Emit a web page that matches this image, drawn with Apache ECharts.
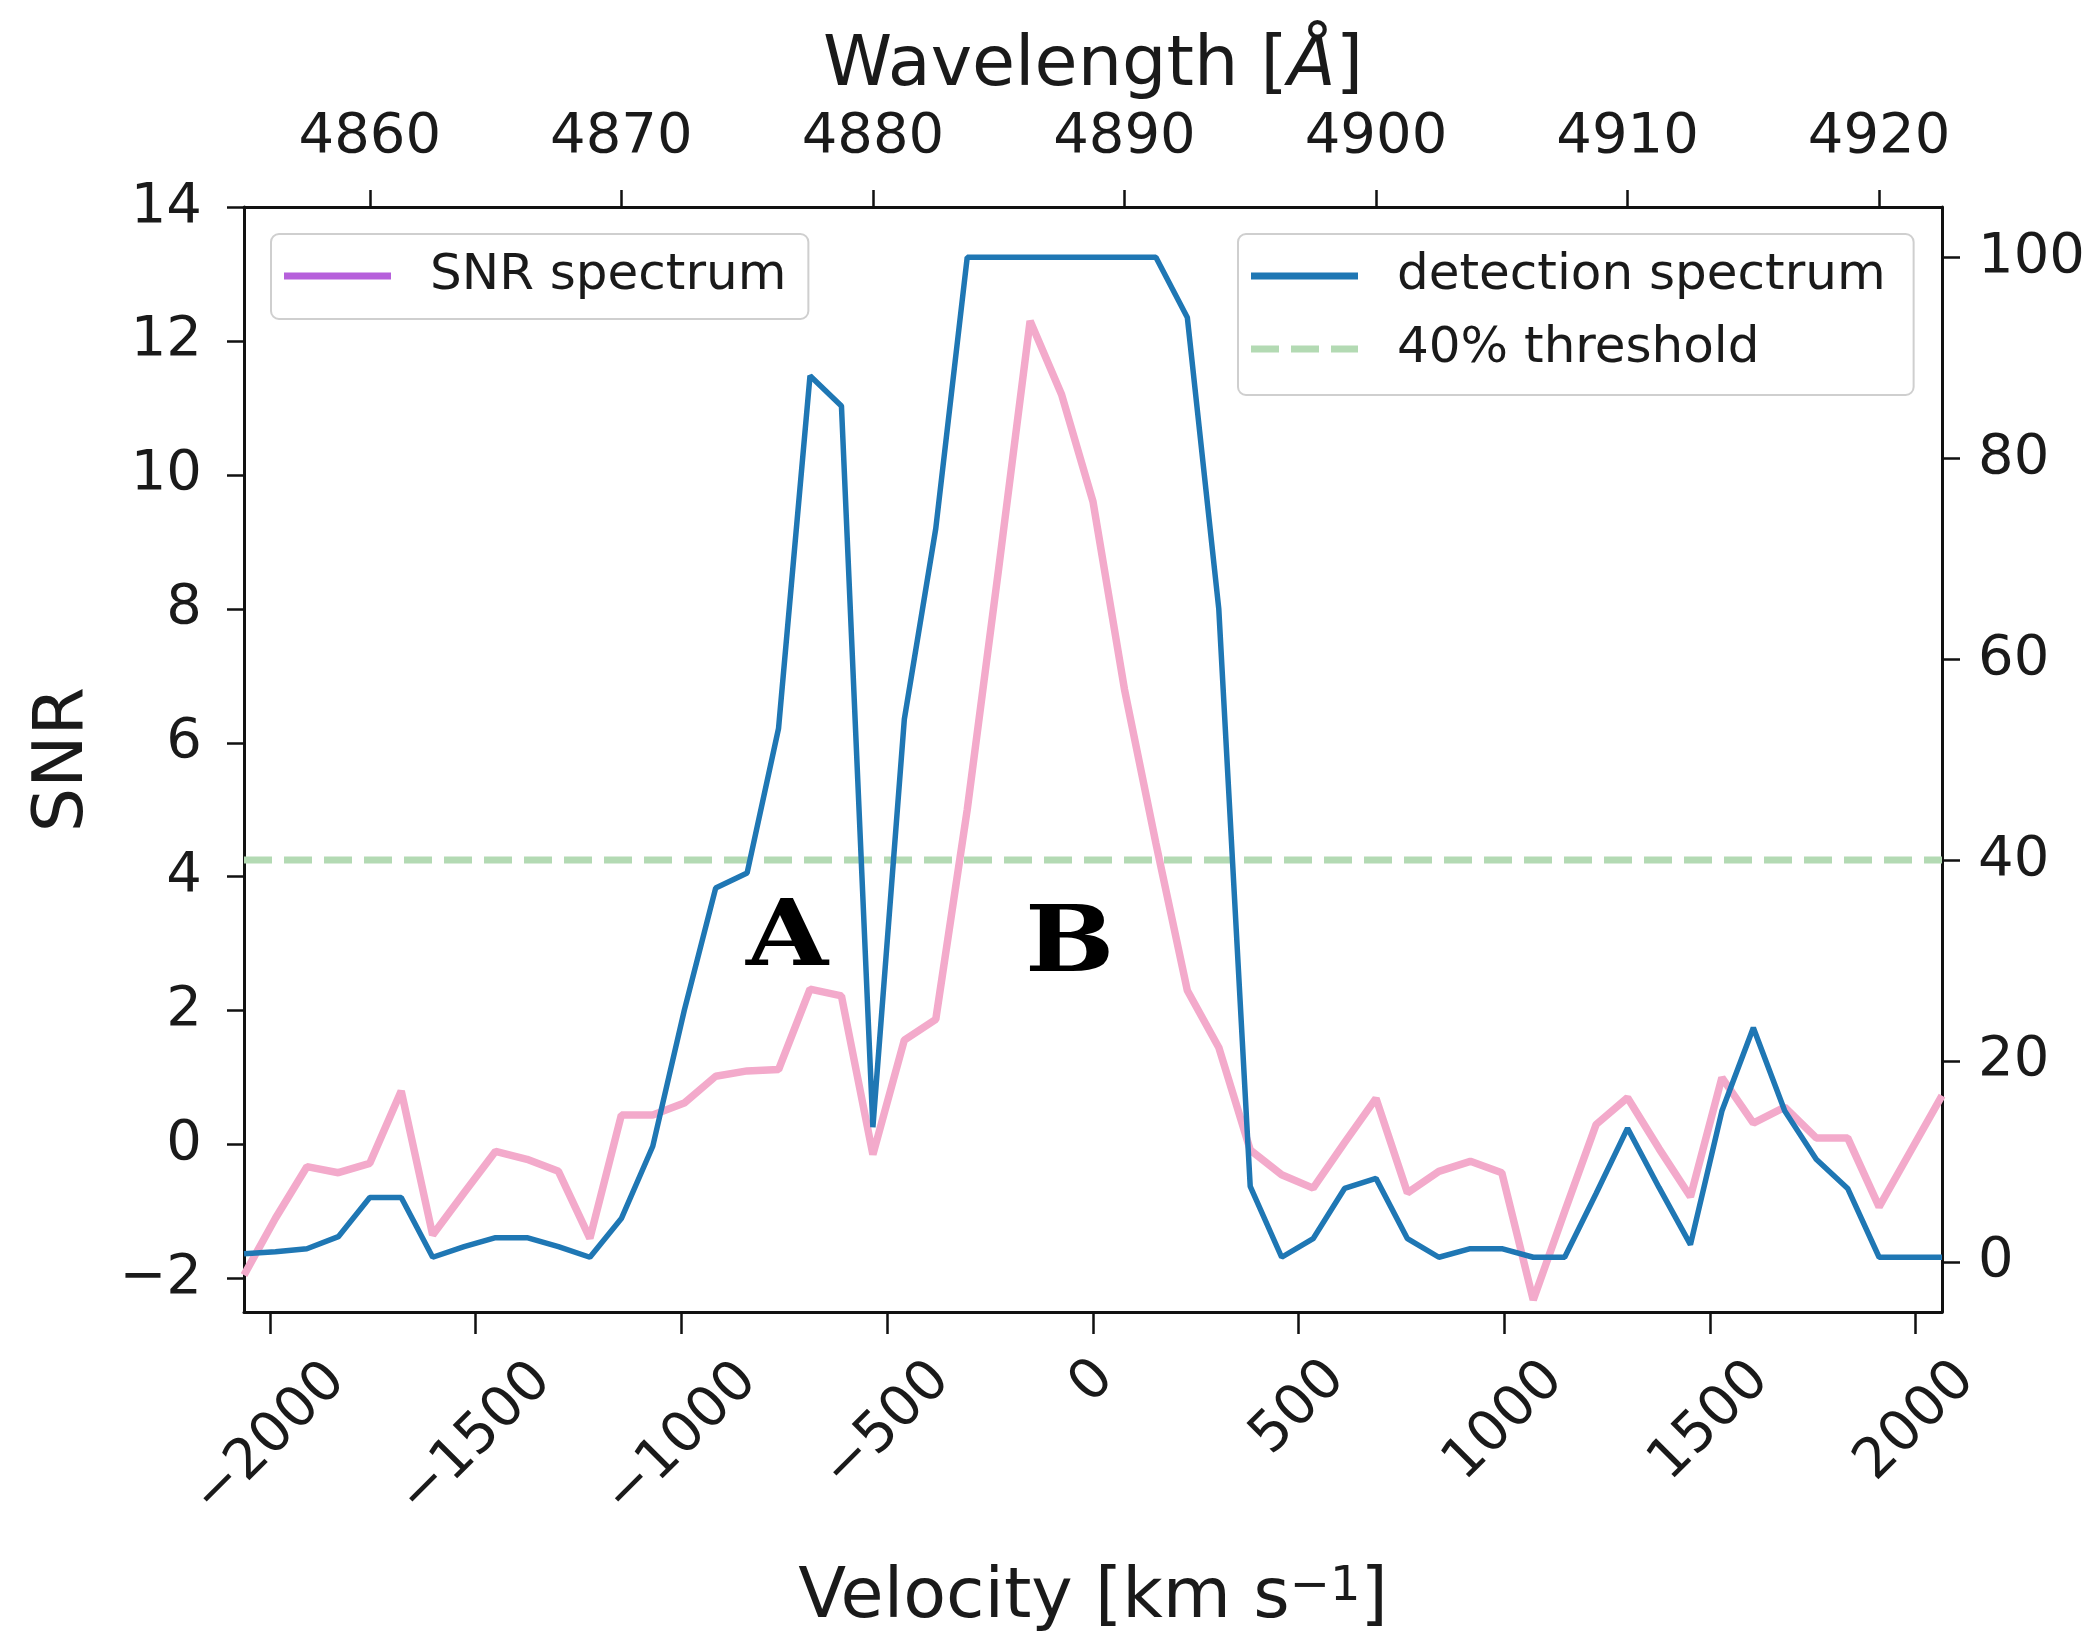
<!DOCTYPE html>
<html><head><meta charset="utf-8">
<script src="https://cdn.jsdelivr.net/npm/echarts@6/dist/echarts.min.js"></script>
<style>html,body{margin:0;padding:0;background:#fff}#c{width:2095px;height:1647px}</style>
</head><body><div id="c"></div>
<script>
// ---- data ----
const wavelength = [4855, 4856.25, 4857.5, 4858.75, 4860, 4861.25, 4862.5, 4863.75, 4865, 4866.25,
  4867.5, 4868.75, 4870, 4871.25, 4872.5, 4873.75, 4875, 4876.25, 4877.5, 4878.75,
  4880, 4881.25, 4882.5, 4883.75, 4885, 4886.25, 4887.5, 4888.75, 4890, 4891.25,
  4892.5, 4893.75, 4895, 4896.25, 4897.5, 4898.75, 4900, 4901.25, 4902.5, 4903.75,
  4905, 4906.25, 4907.5, 4908.75, 4910, 4911.25, 4912.5, 4913.75, 4915, 4916.25,
  4917.5, 4918.75, 4920, 4921.25, 4922.5];
const snrSpectrum = [-1.95, -1.1, -0.33, -0.42, -0.28, 0.80, -1.35, -0.72, -0.10, -0.22,
  -0.40, -1.40, 0.44, 0.44, 0.62, 1.02, 1.10, 1.12, 2.32, 2.22,
  -0.15, 1.56, 1.87, 5.0, 8.6, 12.3, 11.2, 9.6, 6.8, 4.5,
  2.3, 1.45, -0.08, -0.45, -0.65, 0.03, 0.69, -0.72, -0.40, -0.25,
  -0.42, -2.32, -1.0, 0.30, 0.70, -0.06, -0.78, 1.0, 0.32, 0.56,
  0.10, 0.10, -0.93, -0.10, 0.73];
const detectionSpectrum = [0.8, 1.0, 1.3, 2.5, 6.4, 6.4, 0.45, 1.5, 2.4, 2.4,
  1.5, 0.45, 4.3, 11.5, 25, 37.2, 38.7, 53.1, 88.2, 85.2,
  13.4, 54, 73, 100, 100, 100, 100, 100, 100, 100,
  94, 65, 7.5, 0.45, 2.3, 7.3, 8.3, 2.3, 0.45, 1.3,
  1.3, 0.45, 0.45, 6.8, 13.3, 7.4, 1.7, 15, 23.3, 15,
  10.2, 7.3, 0.45, 0.45, 0.45];
const threshold = 40;
const velocityTicks = [-2000, -1500, -1000, -500, 0, 500, 1000, 1500, 2000];
const wavelengthTicks = [4860, 4870, 4880, 4890, 4900, 4910, 4920];
const snrTicks = [-2, 0, 2, 4, 6, 8, 10, 12, 14];
const detectionTicks = [0, 20, 40, 60, 80, 100];
const velocityRange = [-2063, 2064];
const snrRange = [-2.5, 14];
const detectionRange = [-5, 105];

// ---- styling ----
const FONT = 'DejaVu Sans';
const TXT = '#1a1a1a';
const TICK_FS = 56;
const TITLE_FS = 70;
const minus = v => String(v).replace('-', '\u2212');
const axisLine = {show: true, onZero: false, lineStyle: {color: '#111', width: 3}};
const tick = (len, vals) => ({show: true, inside: false, length: len, customValues: vals, lineStyle: {color: '#111', width: 2.5}});
const lbl = (margin, vals, extra) => Object.assign({show: true, customValues: vals, margin: margin, fontSize: TICK_FS, fontFamily: FONT, color: TXT, formatter: v => minus(v)}, extra || {});
const titleStyle = rich => ({fontSize: TITLE_FS, fontFamily: FONT, color: TXT, rich: rich || {}});

// rotated bottom labels: centre the rotated box on its tick like the reference
const charW = ch => (ch === '\u2212' ? 0.838 : 0.636) * TICK_FS;
const strW = s => Array.from(s).reduce((a, c) => a + charW(c), 0);
const velRich = {};
velocityTicks.forEach((v, i) => {
  const s = minus(v);
  const d = (strW(s) - strW('0')) / 2.7;
  const p = Math.round(d * 1.414);
  velRich['v' + i] = {padding: [p, p, 0, 0], fontSize: TICK_FS, fontFamily: FONT, color: TXT};
});

// legend icons (plain line / dashed line, no marker)
const ICON_LINE = 'path://M0 0H107V7H0Z';
const ICON_DASH = 'path://M0 0H28V7H0Z M40 0H68V7H40Z M80 0H107V7H80Z';

const last = wavelength.length - 1;
const chart = echarts.init(document.getElementById('c'), null, {renderer: 'canvas'});
chart.setOption({
  animation: false,
  backgroundColor: '#fff',
  grid: {left: 244, right: 153, top: 207, bottom: 335, containLabel: false},
  xAxis: [
    {
      type: 'value', position: 'bottom', min: velocityRange[0], max: velocityRange[1],
      axisLine: axisLine, axisTick: tick(22, velocityTicks), splitLine: {show: false},
      axisLabel: lbl(70, velocityTicks, {
        rotate: 45, align: 'center', verticalAlign: 'middle', rich: velRich,
        formatter: v => '{v' + velocityTicks.indexOf(v) + '|' + minus(v) + '}'
      }),
      name: 'Velocity [km s{sup|\u22121}]', nameLocation: 'middle', nameGap: 252,
      nameTextStyle: titleStyle({sup: {fontSize: 48, fontFamily: FONT, color: TXT, verticalAlign: 'top', padding: [0, 0, 22, 0]}})
    },
    {
      type: 'value', position: 'top', min: wavelength[0], max: wavelength[last],
      axisLine: axisLine, axisTick: tick(17, wavelengthTicks), splitLine: {show: false},
      axisLabel: lbl(42, wavelengthTicks),
      name: 'Wavelength [{it|\u00C5}]', nameLocation: 'middle', nameGap: 105,
      nameTextStyle: titleStyle({it: {fontSize: TITLE_FS, fontFamily: FONT, color: TXT, fontStyle: 'italic'}})
    }
  ],
  yAxis: [
    {
      type: 'value', position: 'left', min: snrRange[0], max: snrRange[1],
      axisLine: axisLine, axisTick: tick(17, snrTicks), splitLine: {show: false},
      axisLabel: lbl(42, snrTicks),
      name: 'SNR', nameLocation: 'middle', nameRotate: 90, nameGap: 145,
      nameTextStyle: titleStyle()
    },
    {
      type: 'value', position: 'right', min: detectionRange[0], max: detectionRange[1],
      axisLine: axisLine, axisTick: tick(18, detectionTicks), splitLine: {show: false},
      axisLabel: lbl(36, detectionTicks)
    }
  ],
  legend: [
    {
      data: [{name: 'SNR spectrum', icon: ICON_LINE, itemStyle: {color: '#b660db', borderWidth: 0}}],
      left: 271, top: 234, orient: 'vertical',
      padding: [17, 22, 18, 13], itemWidth: 107, itemHeight: 7,
      backgroundColor: 'rgba(255,255,255,0.85)', borderColor: '#cfcfcf', borderWidth: 2, borderRadius: 8,
      textStyle: {fontSize: 50, fontFamily: FONT, color: TXT, padding: [0, 0, 0, 34]},
      selectedMode: false
    },
    {
      data: [
        {name: 'detection spectrum', icon: ICON_LINE, itemStyle: {borderWidth: 0}},
        {name: '40% threshold', icon: ICON_DASH, itemStyle: {borderWidth: 0}}
      ],
      left: 1238, top: 234, orient: 'vertical', itemGap: 23,
      padding: [17, 28, 21, 13], itemWidth: 107, itemHeight: 7,
      backgroundColor: 'rgba(255,255,255,0.85)', borderColor: '#cfcfcf', borderWidth: 2, borderRadius: 8,
      textStyle: {fontSize: 50, fontFamily: FONT, color: TXT, padding: [0, 0, 0, 34]},
      selectedMode: false
    }
  ],
  series: [
    {
      name: '40% threshold', type: 'line', xAxisIndex: 1, yAxisIndex: 1, symbol: 'none', z: 1,
      data: [[wavelength[0], threshold], [wavelength[last], threshold]],
      lineStyle: {color: '#b3dab3', width: 7, type: [28, 12]}, itemStyle: {color: '#b3dab3'}
    },
    {
      name: 'SNR spectrum', type: 'line', xAxisIndex: 1, yAxisIndex: 0, symbol: 'none', z: 2,
      data: wavelength.map((w, i) => [w, snrSpectrum[i]]),
      lineStyle: {color: '#f3aacb', width: 7.5}, itemStyle: {color: '#f3aacb'}
    },
    {
      name: 'detection spectrum', type: 'line', xAxisIndex: 1, yAxisIndex: 1, symbol: 'none', z: 3,
      data: wavelength.map((w, i) => [w, detectionSpectrum[i]]),
      lineStyle: {color: '#1f77b4', width: 5.5}, itemStyle: {color: '#1f77b4'}
    }
  ],
  graphic: [
    {type: 'text', left: 791 - 45, top: 941 - 46, z: 10, scaleX: 1.15,
     style: {text: 'A', font: 'bold 92px "DejaVu Serif"', fill: '#000'}},
    {type: 'text', left: 1067 - 42, top: 947 - 46, z: 10, scaleX: 1.15,
     style: {text: 'B', font: 'bold 92px "DejaVu Serif"', fill: '#000'}}
  ]
});
</script>
</body></html>
